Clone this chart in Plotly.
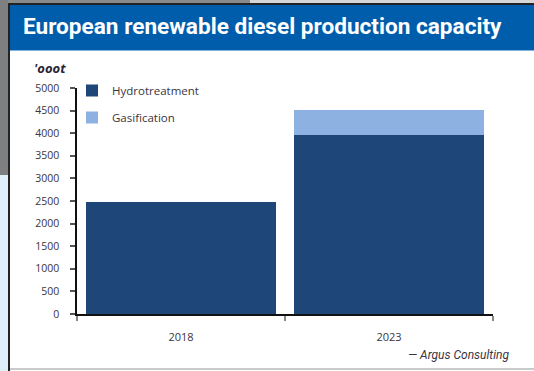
import plotly.graph_objects as go

# Capacity in thousand tonnes
years = ["2018", "2023"]
hydrotreatment = [2480, 3970]
gasification = [0, 540]
y_ticks = [0, 500, 1000, 1500, 2000, 2500, 3000, 3500, 4000, 4500, 5000]

W, H = 534, 371
L, R, T, B = 77, 41, 88, 57
PW, PH = W - L - R, H - T - B
TEXT = "#3a3440"


def px(x):
    # page pixel -> paper x
    return (x - L) / PW


def py(y):
    # page pixel -> paper y
    return (H - B - y) / PH


fig = go.Figure()
fig.add_trace(go.Bar(name="Hydrotreatment", x=years, y=hydrotreatment, legendgroup="h",
                     marker=dict(color="#1e4679", line=dict(width=0))))
fig.add_trace(go.Bar(name="Gasification", x=years, y=gasification, legendgroup="g",
                     marker=dict(color="#8db1e1", line=dict(width=0))))

shapes = [
    # page background strips
    dict(type="rect", xref="paper", yref="paper", x0=px(0), x1=px(8), y0=py(175), y1=py(0),
         fillcolor="#7d7f80", line=dict(width=0), layer="below"),
    dict(type="rect", xref="paper", yref="paper", x0=px(0), x1=px(8), y0=py(371), y1=py(175),
         fillcolor="#dff0fb", line=dict(width=0), layer="below"),
    dict(type="rect", xref="paper", yref="paper", x0=px(8), x1=px(534), y0=py(4), y1=py(0),
         fillcolor="#d6d6d6", line=dict(width=0), layer="below"),
    dict(type="rect", xref="paper", yref="paper", x0=px(8), x1=px(250), y0=py(3), y1=py(0),
         fillcolor="#8a8a8a", line=dict(width=0), layer="below"),
    # frame lines
    dict(type="line", xref="paper", yref="paper", x0=px(8), x1=px(534), y0=py(4), y1=py(4),
         line=dict(color="#222222", width=2)),
    dict(type="line", xref="paper", yref="paper", x0=px(9), x1=px(9), y0=py(371), y1=py(3),
         line=dict(color="#222222", width=2)),
    dict(type="line", xref="paper", yref="paper", x0=px(10), x1=px(534), y0=py(369), y1=py(369),
         line=dict(color="#b8b8b8", width=1.5)),
    # title band
    dict(type="rect", xref="paper", yref="paper", x0=px(10), x1=px(534), y0=py(50), y1=py(5),
         fillcolor="#005dab", line=dict(width=0), layer="below"),
    dict(type="line", xref="paper", yref="paper", x0=px(10), x1=px(534), y0=py(50.5), y1=py(50.5),
         line=dict(color="#7fb0d9", width=1)),
]

annotations = [
    dict(text="<b>European renewable diesel production capacity</b>", xref="paper", yref="paper",
         x=px(21), y=py(27), xanchor="left", yanchor="middle", showarrow=False,
         font=dict(family="Roboto, sans-serif", size=22.6, color="white")),
    dict(text="<b><i>'ooot</i></b>", xref="paper", yref="paper",
         x=px(32), y=py(68), xanchor="left", yanchor="middle", showarrow=False,
         font=dict(family="Open Sans, sans-serif", size=13, color="#2a2535")),
    dict(text="<i>— Argus Consulting</i>", xref="paper", yref="paper",
         x=px(511), y=py(355), xanchor="right", yanchor="middle", showarrow=False,
         font=dict(family="Roboto, sans-serif", size=12, color=TEXT)),
]

fig.update_layout(
    width=W, height=H,
    margin=dict(l=L, r=R, t=T, b=B, pad=0),
    paper_bgcolor="white", plot_bgcolor="white",
    barmode="stack", bargap=0.09,
    showlegend=True,
    legend=dict(x=px(72), y=py(76), xanchor="left", yanchor="top",
                traceorder="grouped", tracegroupgap=8, bgcolor="rgba(0,0,0,0)", itemwidth=30,
                itemclick=False,
                font=dict(family="Open Sans, sans-serif", size=11.5, color=TEXT)),
    shapes=shapes,
    annotations=annotations,
    xaxis=dict(type="category", tickson="boundaries", ticks="outside", ticklen=5,
               tickcolor="#888888", tickwidth=1.5, showline=True, linecolor="#111111", linewidth=1.5,
               showgrid=False, ticklabelstandoff=12,
               tickfont=dict(family="Open Sans, sans-serif", size=11, color=TEXT)),
    yaxis=dict(range=[0, 5000], tickvals=y_ticks, ticktext=[str(v) for v in y_ticks],
               ticks="outside", ticklen=5, tickcolor="#555555", tickwidth=1.5,
               showline=True, linecolor="#111111", linewidth=1.5, showgrid=False, zeroline=False,
               ticklabelstandoff=9,
               tickfont=dict(family="Open Sans, sans-serif", size=10.5, color=TEXT)),
)

fig.write_html("out.html")
